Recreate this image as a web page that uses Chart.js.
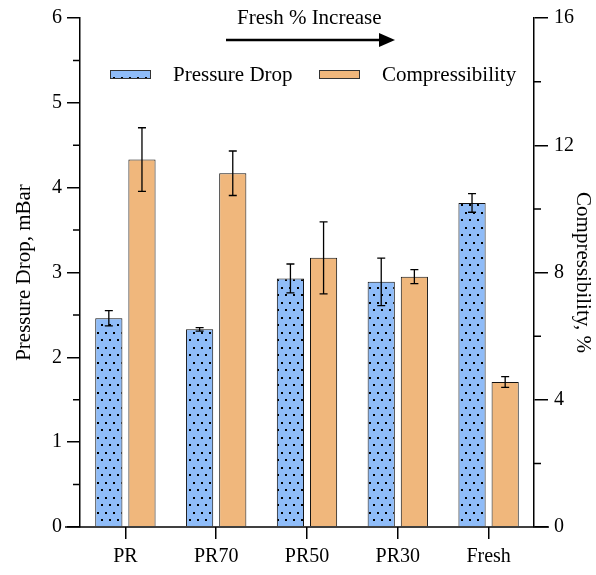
<!DOCTYPE html>
<html>
<head>
<meta charset="utf-8">
<script src="https://cdn.jsdelivr.net/npm/chart.js@4/dist/chart.umd.min.js"></script>
<style>
  html, body { margin: 0; padding: 0; background: #fff; }
  #wrap { width: 596px; height: 575px; }
</style>
</head>
<body>
<div id="wrap"><canvas id="c" width="596" height="575"></canvas></div>
<script>
// ---- Data ----
const categories = ['PR', 'PR70', 'PR50', 'PR30', 'Fresh'];
const pressureDrop = [2.46, 2.33, 2.93, 2.89, 3.82];
const pressureDropErr = [0.09, 0.02, 0.17, 0.28, 0.11];
const compressibility = [11.55, 11.12, 8.46, 7.87, 4.56];
const compressibilityErr = [1.0, 0.7, 1.13, 0.22, 0.17];
const leftTicks = [0, 1, 2, 3, 4, 5, 6];
const rightTicks = [0, 4, 8, 12, 16];
const leftMinor = [0.5, 1.5, 2.5, 3.5, 4.5, 5.5];
const rightMinor = [2, 6, 10, 14];
const seriesNames = ['Pressure Drop', 'Compressibility'];
const annotationText = 'Fresh % Increase';

const FONT = '"Liberation Serif", "Times New Roman", serif';
const BLUE = '#8fbcf8';
const ORANGE = '#f0b77c';

function makeDots() {
  const t = document.createElement('canvas');
  t.width = 8; t.height = 15;
  const g = t.getContext('2d');
  g.fillStyle = BLUE; g.fillRect(0, 0, 8, 15);
  g.fillStyle = '#000';
  g.fillRect(1, 2, 2, 2);
  g.fillRect(5, 9, 2, 2);
  return g.createPattern(t, 'repeat');
}
const dotPattern = makeDots();

const errors = [pressureDropErr, compressibilityErr];

const decorPlugin = {
  id: 'decor',
  afterDatasetsDraw(chart) {
    const ctx = chart.ctx;
    ctx.save();
    ctx.strokeStyle = '#000';
    ctx.lineWidth = 1.3;
    chart.data.datasets.forEach((ds, di) => {
      const meta = chart.getDatasetMeta(di);
      const ys = chart.scales[ds.yAxisID];
      meta.data.forEach((bar, i) => {
        const v = ds.data[i], e = errors[di][i];
        const x = bar.x;
        const yt = ys.getPixelForValue(v + e), yb = ys.getPixelForValue(v - e);
        ctx.beginPath();
        ctx.moveTo(x, yt); ctx.lineTo(x, yb);
        ctx.moveTo(x - 4, yt); ctx.lineTo(x + 4, yt);
        ctx.moveTo(x - 4, yb); ctx.lineTo(x + 4, yb);
        ctx.stroke();
      });
    });
    ctx.restore();
  },
  afterDraw(chart) {
    const ctx = chart.ctx;
    const ca = chart.chartArea;
    const yl = chart.scales.y, yr = chart.scales.y2;
    ctx.save();
    ctx.strokeStyle = '#000';
    ctx.lineWidth = 1.5;
    // extended x axis line
    ctx.beginPath();
    ctx.moveTo(ca.left - 15, ca.bottom);
    ctx.lineTo(ca.right + 15, ca.bottom);
    ctx.stroke();
    // minor ticks
    ctx.beginPath();
    leftMinor.forEach(v => { const y = yl.getPixelForValue(v); ctx.moveTo(ca.left, y); ctx.lineTo(ca.left - 7, y); });
    rightMinor.forEach(v => { const y = yr.getPixelForValue(v); ctx.moveTo(ca.right, y); ctx.lineTo(ca.right + 7, y); });
    ctx.stroke();

    // annotation text + arrow
    const cx = ca.left + (ca.right - ca.left) * 0.505;
    ctx.fillStyle = '#000';
    ctx.font = '21px ' + FONT;
    ctx.textAlign = 'center';
    ctx.textBaseline = 'middle';
    ctx.fillText(annotationText, cx, ca.top);
    const ay = ca.top + 22;
    const ax0 = ca.left + 146, ax1 = ca.left + 315;
    ctx.lineWidth = 2.5;
    ctx.beginPath(); ctx.moveTo(ax0, ay); ctx.lineTo(ax1 - 10, ay); ctx.stroke();
    ctx.beginPath(); ctx.moveTo(ax1, ay); ctx.lineTo(ax1 - 16, ay - 7); ctx.lineTo(ax1 - 16, ay + 7); ctx.closePath(); ctx.fill();

    // legend
    const ly = ca.top + 56;
    const items = [
      { x: ca.left + 30, fill: dotPattern, label: seriesNames[0] },
      { x: ca.left + 239, fill: ORANGE, label: seriesNames[1] }
    ];
    ctx.font = '21px ' + FONT;
    ctx.textAlign = 'left';
    items.forEach(it => {
      ctx.fillStyle = it.fill;
      ctx.fillRect(it.x, ly - 4, 40, 8);
      ctx.lineWidth = 1;
      ctx.strokeStyle = '#333';
      ctx.strokeRect(it.x + 0.5, ly - 4 + 0.5, 40, 8);
      ctx.fillStyle = '#000';
      ctx.fillText(it.label, it.x + 63, ly + 1);
    });
    ctx.restore();
  }
};

new Chart(document.getElementById('c'), {
  type: 'bar',
  data: {
    labels: categories,
    datasets: [
      { label: seriesNames[0], data: pressureDrop, yAxisID: 'y', backgroundColor: dotPattern, borderColor: '#111', borderWidth: 1, categoryPercentage: 0.73, barPercentage: 0.82 },
      { label: seriesNames[1], data: compressibility, yAxisID: 'y2', backgroundColor: ORANGE, borderColor: '#111', borderWidth: 1, categoryPercentage: 0.73, barPercentage: 0.82 }
    ]
  },
  options: {
    responsive: false,
    animation: false,
    layout: { padding: { top: 17, left: 0, right: 0, bottom: 0 } },
    plugins: { legend: { display: false }, tooltip: { enabled: false } },
    scales: {
      x: {
        offset: true,
        grid: { display: true, offset: false, drawOnChartArea: false, drawTicks: true, tickLength: 12, color: '#000', lineWidth: 1.5 },
        border: { display: false },
        ticks: { color: '#000', font: { family: FONT, size: 20 }, padding: 6, maxRotation: 0 },
        afterFit(s) { s.height = 48; }
      },
      y: {
        position: 'left',
        min: 0, max: 6,
        afterBuildTicks(s) { s.ticks = leftTicks.map(v => ({ value: v })); },
        grid: { drawOnChartArea: false, drawTicks: true, tickLength: 13, color: '#000', lineWidth: 1.5 },
        border: { display: true, color: '#000', width: 1.5 },
        ticks: { color: '#000', font: { family: FONT, size: 20 }, padding: 5 },
        title: { display: true, text: 'Pressure Drop, mBar', color: '#000', font: { family: FONT, size: 21 }, padding: { top: 12, bottom: 0 } },
        afterFit(s) { s.width = 80; }
      },
      y2: {
        position: 'right',
        min: 0, max: 16,
        afterBuildTicks(s) { s.ticks = rightTicks.map(v => ({ value: v })); },
        grid: { drawOnChartArea: false, drawTicks: true, tickLength: 14, color: '#000', lineWidth: 1.5 },
        border: { display: true, color: '#000', width: 1.5 },
        ticks: { color: '#000', font: { family: FONT, size: 20 }, padding: 6 },
        title: { display: true, text: 'Compressibility, %', color: '#000', font: { family: FONT, size: 21 }, padding: { top: 1, bottom: 0 } },
        afterFit(s) { s.width = 62; }
      }
    }
  },
  plugins: [decorPlugin]
});
</script>
</body>
</html>
